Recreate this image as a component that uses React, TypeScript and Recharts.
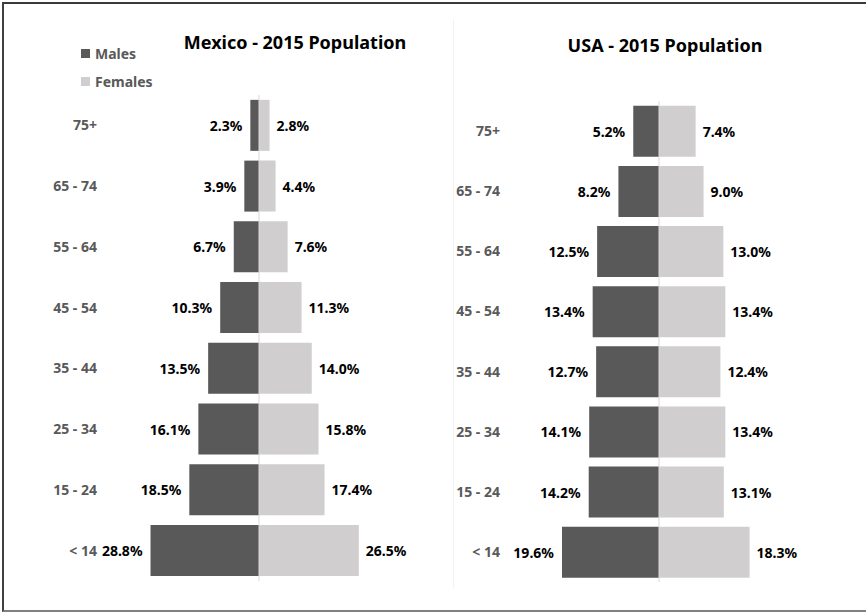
import React from "react";
import { Bar, BarChart, LabelList, ReferenceLine, XAxis, YAxis } from "recharts";

const ageGroups = ["75+", "65 - 74", "55 - 64", "45 - 54", "35 - 44", "25 - 34", "15 - 24", "< 14"];
const seriesNames = ["Males", "Females"];

const mexicoMales = [2.3, 3.9, 6.7, 10.3, 13.5, 16.1, 18.5, 28.8];
const mexicoFemales = [2.8, 4.4, 7.6, 11.3, 14.0, 15.8, 17.4, 26.5];
const usaMales = [5.2, 8.2, 12.5, 13.4, 12.7, 14.1, 14.2, 19.6];
const usaFemales = [7.4, 9.0, 13.0, 13.4, 12.4, 13.4, 13.1, 18.3];

const MALE = "#595959";
const FEMALE = "#d0cece";
const FONT = "'Noto Sans', sans-serif";

function toRows(males: number[], females: number[]) {
  return ageGroups.map((age, i) => ({ age, male: -males[i], female: females[i] }));
}

const labelStyle = { fontFamily: FONT, fontSize: 14, fontWeight: 700, fill: "#000" };

function MaleLabel(props: any) {
  const { x, y, width, height, value } = props;
  const left = Math.min(Number(x), Number(x) + Number(width));
  return (
    <text x={left - 8} y={Number(y) + Number(height) / 2} textAnchor="end" dominantBaseline="central" style={labelStyle}>
      {Math.abs(value).toFixed(1)}%
    </text>
  );
}

function FemaleLabel(props: any) {
  const { x, y, width, height, value } = props;
  const right = Math.max(Number(x), Number(x) + Number(width));
  return (
    <text x={right + 7} y={Number(y) + Number(height) / 2} textAnchor="start" dominantBaseline="central" style={labelStyle}>
      {Math.abs(value).toFixed(1)}%
    </text>
  );
}

type PyramidProps = {
  rows: { age: string; male: number; female: number }[];
  width: number;
  height: number;
  top: number;
  bottom: number;
  axisWidth: number;
  right: number;
  tickMargin: number;
  limit: number;
};

function Pyramid({ rows, width, height, top, bottom, axisWidth, right, tickMargin, limit }: PyramidProps) {
  return (
    <BarChart
      width={width}
      height={height}
      data={rows}
      layout="vertical"
      stackOffset="sign"
      barCategoryGap="8%"
      margin={{ top, bottom, left: 0, right }}
      style={{ fontFamily: FONT }}
    >
      <XAxis type="number" domain={[-limit, limit]} hide />
      <YAxis
        type="category"
        dataKey="age"
        width={axisWidth}
        axisLine={false}
        tickLine={false}
        tickSize={0}
        tickMargin={tickMargin}
        tick={{ fill: "#595959", fontSize: 14, fontWeight: 700, fontFamily: FONT }}
      />
      <ReferenceLine x={0} stroke="#d9d9d9" />
      <Bar dataKey="male" stackId="a" fill={MALE} isAnimationActive={false}>
        <LabelList dataKey="male" content={MaleLabel} />
      </Bar>
      <Bar dataKey="female" stackId="a" fill={FEMALE} isAnimationActive={false}>
        <LabelList dataKey="female" content={FemaleLabel} />
      </Bar>
    </BarChart>
  );
}

const titleStyle: React.CSSProperties = {
  position: "absolute",
  fontFamily: FONT,
  fontSize: 18,
  fontWeight: 700,
  lineHeight: "18px",
  color: "#000",
  textAlign: "center",
  width: 300,
  whiteSpace: "nowrap",
};

export default function App() {
  return (
    <div style={{ position: "absolute", left: 0, top: 0, width: 866, height: 613, overflow: "hidden", background: "#fff" }}>
      <div
        style={{
          position: "absolute",
          left: 2,
          top: 2,
          width: 880,
          height: 610,
          boxSizing: "border-box",
          borderTop: "2px solid #3a3a3a",
          borderLeft: "2px solid #404040",
          borderBottom: "2px solid #808080",
        }}
      />
      <div style={{ position: "absolute", left: 453, top: 19, width: 1, height: 569, background: "#f2f2f2" }} />

      <div style={{ ...titleStyle, left: 295 - 150, top: 33 }}>Mexico - 2015 Population</div>
      <div style={{ ...titleStyle, left: 665 - 150, top: 36 }}>USA - 2015 Population</div>

      <div style={{ position: "absolute", left: 81, top: 39, fontFamily: FONT, fontSize: 14, fontWeight: 700, color: "#595959" }}>
        {seriesNames.map((name, i) => (
          <div key={name} style={{ display: "flex", alignItems: "center", height: 28 }}>
            <span style={{ display: "inline-block", width: 9, height: 9, background: i === 0 ? MALE : FEMALE, marginRight: 5 }} />
            <span>{name}</span>
          </div>
        ))}
      </div>

      <div style={{ position: "absolute", left: 0, top: 0 }}>
        <Pyramid
          rows={toRows(mexicoMales, mexicoFemales)}
          width={440}
          height={600}
          top={95}
          bottom={19}
          axisWidth={146}
          right={68}
          tickMargin={49}
          limit={30}
        />
      </div>
      <div style={{ position: "absolute", left: 440, top: 0 }}>
        <Pyramid
          rows={toRows(usaMales, usaFemales)}
          width={426}
          height={600}
          top={101}
          bottom={18}
          axisWidth={120}
          right={108}
          tickMargin={60}
          limit={20}
        />
      </div>
    </div>
  );
}
